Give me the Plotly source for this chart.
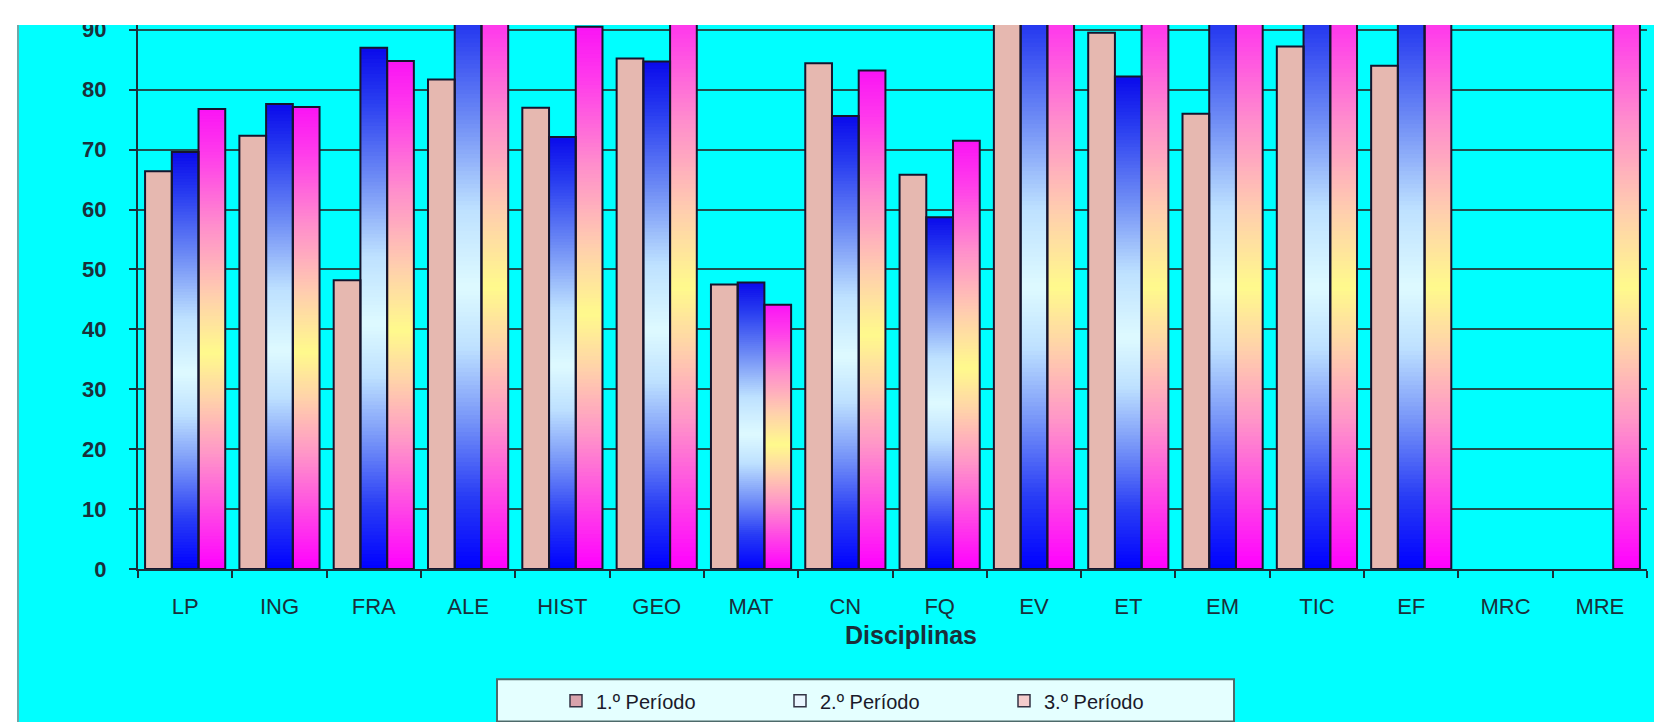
import plotly.graph_objects as go

# ---------------- data ----------------
categorias = ["LP", "ING", "FRA", "ALE", "HIST", "GEO", "MAT", "CN", "FQ",
              "EV", "ET", "EM", "TIC", "EF", "MRC", "MRE"]
periodo1 = [66.4, 72.3, 48.2, 81.7, 77.0, 85.2, 47.5, 84.4, 65.8,
            100, 89.5, 76.0, 87.2, 84.0, None, None]
periodo2 = [69.6, 77.6, 87.0, 100, 72.1, 84.7, 47.8, 75.6, 58.7,
            100, 82.2, 100, 100, 100, None, None]
periodo3 = [76.8, 77.1, 84.8, 100, 90.5, 100, 44.1, 83.2, 71.5,
            100, 100, 100, 100, 100, None, 100]
nomes = ["1.º Período", "2.º Período", "3.º Período"]
y_ticks = [0, 10, 20, 30, 40, 50, 60, 70, 80, 90]
titulo_x = "Disciplinas"

# ---------------- styling ----------------
W, H = 1662, 722
ML, MR, MT, MB = 130, 23, 10, 159
PW, PH = W - ML - MR, H - MT - MB
Y_TOP = 90.8
CYAN = "#00FFFF"
DARK = "#1b2f3a"
OUTLINE = "#15152e"
FONT = "Liberation Sans, Arial, sans-serif"

cor_p1 = "#E6B8B0"
grad_p2 = [(0.0, (0, 0, 255)), (0.12, (40, 60, 245)), (0.25, (120, 150, 248)),
           (0.37, (190, 225, 255)), (0.47, (222, 250, 255)), (0.6, (190, 225, 255)),
           (0.75, (110, 140, 245)), (0.9, (40, 60, 240)), (1.0, (10, 10, 235))]
grad_p3 = [(0.0, (255, 0, 255)), (0.12, (255, 70, 230)), (0.25, (255, 150, 200)),
           (0.37, (255, 210, 170)), (0.47, (255, 250, 140)), (0.6, (255, 205, 175)),
           (0.75, (255, 140, 205)), (0.9, (255, 60, 235)), (1.0, (250, 20, 245))]
cores_legenda = ["#D9A3AC", "#EAF6FF", "#F4CCCC"]
N_SLICES = 140
OVERLAP = 1.8


def grad_color(stops, t):
    for (t0, c0), (t1, c1) in zip(stops[:-1], stops[1:]):
        if t0 <= t <= t1:
            f = (t - t0) / (t1 - t0) if t1 > t0 else 0
            c = [round(a + (b - a) * f) for a, b in zip(c0, c1)]
            return "rgb(%d,%d,%d)" % tuple(c)
    return "rgb(%d,%d,%d)" % stops[-1][1]


def px_x(px):
    return (px - ML) / PW


def px_y(py):
    return (H - MB - py) / PH


fig = go.Figure()
series = [periodo1, periodo2, periodo3]

# series 1: solid fill
fig.add_trace(go.Bar(x=categorias, y=periodo1, marker=dict(color=cor_p1, line=dict(width=0)),
                     offsetgroup="s0", showlegend=False, hoverinfo="skip"))

# series 2 & 3: gradient fills drawn as overlapping thin slices of each bar
for s, stops in ((1, grad_p2), (2, grad_p3)):
    vals = series[s]
    for k in range(N_SLICES):
        bs = [None if v is None else v * k / N_SLICES for v in vals]
        ys = [None if v is None else min(v * OVERLAP / N_SLICES, v - v * k / N_SLICES) for v in vals]
        fig.add_trace(go.Bar(x=categorias, y=ys, base=bs,
                             marker=dict(color=grad_color(stops, (k + 0.5) / N_SLICES), line=dict(width=0)),
                             offsetgroup="s%d" % s, showlegend=False, hoverinfo="skip"))

# outlines
for s, vals in enumerate(series):
    fig.add_trace(go.Bar(x=categorias, y=vals,
                         marker=dict(color="rgba(0,0,0,0)", line=dict(color=OUTLINE, width=2)),
                         offsetgroup="s%d" % s, showlegend=False, name=nomes[s]))

# legend entries
for s in range(3):
    fig.add_trace(go.Bar(x=[categorias[0]], y=[None], name=nomes[s],
                         marker=dict(color=cores_legenda[s], line=dict(color="#333344", width=1.5)),
                         offsetgroup="s%d" % s, showlegend=True))

fig.update_layout(
    width=W, height=H,
    margin=dict(l=ML, r=MR, t=MT, b=MB),
    paper_bgcolor=CYAN, plot_bgcolor=CYAN,
    barmode="group", bargap=0.15, bargroupgap=0,
    font=dict(family=FONT, color=DARK),
    showlegend=True,
    legend=dict(orientation="h", x=px_x(548), xanchor="left", y=px_y(697), yanchor="middle",
                bgcolor="rgba(0,0,0,0)", borderwidth=0,
                font=dict(size=20, color="#1a1a2a", family=FONT),
                entrywidth=179, entrywidthmode="pixels", traceorder="normal"),
    xaxis=dict(categoryorder="array", categoryarray=categorias,
               showline=True, linecolor=DARK, linewidth=2,
               ticks="outside", tickson="boundaries", ticklen=7, tickcolor=DARK, tickwidth=2,
               tickfont=dict(size=22, color=DARK), ticklabelstandoff=17,
               showgrid=False, fixedrange=True),
    yaxis=dict(range=[0, Y_TOP], tickvals=y_ticks,
               showline=True, linecolor=DARK, linewidth=2,
               ticks="outside", ticklen=7, tickcolor=DARK, tickwidth=2,
               tickfont=dict(size=22, color=DARK, weight="bold"), ticklabelstandoff=18,
               showgrid=True, gridcolor="#1f4f4f", gridwidth=1.5,
               zeroline=False, fixedrange=True),
    annotations=[dict(text=titulo_x, xref="paper", yref="paper", x=px_x(903), y=px_y(630),
                      xanchor="center", yanchor="middle", showarrow=False,
                      font=dict(size=25, color=DARK, weight="bold"))],
    shapes=[
        dict(type="rect", xref="paper", yref="paper", layer="below",
             x0=px_x(489), x1=px_x(1226), y0=px_y(718), y1=px_y(675),
             fillcolor="#E4FFFF", line=dict(color="#4d6a6a", width=2)),
        dict(type="rect", xref="paper", yref="paper", layer="above",
             x0=px_x(-20), x1=px_x(1700), y0=1.0, y1=px_y(-20),
             fillcolor="white", line=dict(width=0)),
        dict(type="rect", xref="paper", yref="paper", layer="above",
             x0=px_x(-20), x1=px_x(10), y0=px_y(740), y1=px_y(-20),
             fillcolor="white", line=dict(width=0)),
        dict(type="line", xref="paper", yref="paper", layer="above",
             x0=px_x(10), x1=px_x(10), y0=px_y(740), y1=1.0,
             line=dict(color="#6fa8a8", width=2)),
    ],
)

fig.write_html("out.html")
